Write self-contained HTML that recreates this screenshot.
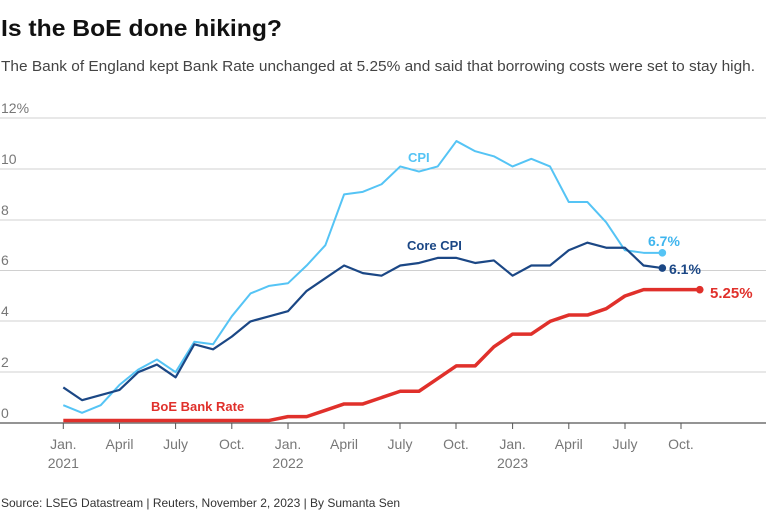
<!DOCTYPE html>
<html><head><meta charset="utf-8"><style>body{margin:0;background:#fff}svg{display:block}</style></head><body>
<svg width="768" height="514" xmlns="http://www.w3.org/2000/svg" font-family="Liberation Sans, sans-serif">
<text x="1" y="36" font-size="23" font-weight="bold" fill="#111" textLength="281" lengthAdjust="spacingAndGlyphs">Is the BoE done hiking?</text>
<text x="1" y="71" font-size="15" fill="#444" textLength="754" lengthAdjust="spacingAndGlyphs">The Bank of England kept Bank Rate unchanged at 5.25% and said that borrowing costs were set to stay high.</text>
<g stroke="#d0d0d0" stroke-width="1">
<line x1="0" x2="766" y1="118" y2="118"/><line x1="0" x2="766" y1="169" y2="169"/><line x1="0" x2="766" y1="220" y2="220"/><line x1="0" x2="766" y1="270.5" y2="270.5"/><line x1="0" x2="766" y1="321" y2="321"/><line x1="0" x2="766" y1="372" y2="372"/>
</g>
<line x1="0" x2="766" y1="423" y2="423" stroke="#555" stroke-width="1.3"/>
<g font-size="14" fill="#777">
<text x="1" y="113">12%</text><text x="1" y="164">10</text><text x="1" y="215">8</text><text x="1" y="265">6</text><text x="1" y="316">4</text><text x="1" y="367">2</text><text x="1" y="418">0</text>
</g>
<g stroke="#555" stroke-width="1">
<line x1="63.3" x2="63.3" y1="423" y2="429"/><line x1="119.5" x2="119.5" y1="423" y2="429"/><line x1="175.6" x2="175.6" y1="423" y2="429"/><line x1="231.8" x2="231.8" y1="423" y2="429"/><line x1="288" x2="288" y1="423" y2="429"/><line x1="344" x2="344" y1="423" y2="429"/><line x1="400" x2="400" y1="423" y2="429"/><line x1="456" x2="456" y1="423" y2="429"/><line x1="512.6" x2="512.6" y1="423" y2="429"/><line x1="568.8" x2="568.8" y1="423" y2="429"/><line x1="625" x2="625" y1="423" y2="429"/><line x1="681" x2="681" y1="423" y2="429"/>
</g>
<g font-size="14" fill="#777" text-anchor="middle">
<text x="63.3" y="449">Jan.</text><text x="63.3" y="468">2021</text>
<text x="119.5" y="449">April</text><text x="175.6" y="449">July</text><text x="231.8" y="449">Oct.</text>
<text x="288" y="449">Jan.</text><text x="288" y="468">2022</text>
<text x="344" y="449">April</text><text x="400" y="449">July</text><text x="456" y="449">Oct.</text>
<text x="512.6" y="449">Jan.</text><text x="512.6" y="468">2023</text>
<text x="568.8" y="449">April</text><text x="625" y="449">July</text><text x="681" y="449">Oct.</text>
</g>
<g id="lines" fill="none" stroke-linejoin="round"></g>
<text x="408" y="162" font-size="13" font-weight="bold" fill="#55c4f5">CPI</text>
<text x="407" y="250" font-size="13" font-weight="bold" fill="#1b4785">Core CPI</text>
<text x="151" y="411" font-size="13" font-weight="bold" fill="#e0302b">BoE Bank Rate</text>
<text x="648" y="246" font-size="14" font-weight="bold" fill="#3fb5ee">6.7%</text>
<text x="669" y="274" font-size="14" font-weight="bold" fill="#1b4785">6.1%</text>
<text x="710" y="298" font-size="15" font-weight="bold" fill="#e0302b">5.25%</text>
<text x="1" y="507" font-size="12" fill="#333">Source: LSEG Datastream | Reuters, November 2, 2023 | By Sumanta Sen</text>
<script>
var cpi=[0.7,0.4,0.7,1.5,2.1,2.5,2.0,3.2,3.1,4.2,5.1,5.4,5.5,6.2,7.0,9.0,9.1,9.4,10.1,9.9,10.1,11.1,10.7,10.5,10.1,10.4,10.1,8.7,8.7,7.9,6.8,6.7,6.7];
var core=[1.4,0.9,1.1,1.3,2.0,2.3,1.8,3.1,2.9,3.4,4.0,4.2,4.4,5.2,5.7,6.2,5.9,5.8,6.2,6.3,6.5,6.5,6.3,6.4,5.8,6.2,6.2,6.8,7.1,6.9,6.9,6.2,6.1];
var br=[0.1,0.1,0.1,0.1,0.1,0.1,0.1,0.1,0.1,0.1,0.1,0.1,0.25,0.25,0.5,0.75,0.75,1.0,1.25,1.25,1.75,2.25,2.25,3.0,3.5,3.5,4.0,4.25,4.25,4.5,5.0,5.25,5.25,5.25,5.25];
function X(m){return 63.3+m*18.72}function Y(v){return 423-v*25.4}
var g=document.getElementById('lines'),ns='http://www.w3.org/2000/svg';
function draw(d,c,w){var p=document.createElementNS(ns,'polyline');p.setAttribute('points',d.map(function(v,i){return X(i)+','+Y(v)}).join(' '));p.setAttribute('stroke',c);p.setAttribute('stroke-width',w);g.appendChild(p);
var e=document.createElementNS(ns,'circle');e.setAttribute('cx',X(d.length-1));e.setAttribute('cy',Y(d[d.length-1]));e.setAttribute('r',3.8);e.setAttribute('fill',c);g.appendChild(e);}
draw(cpi,'#55c4f5',2);draw(core,'#1b4785',2.2);draw(br,'#e0302b',3.5);
</script>
</svg>
</body></html>
